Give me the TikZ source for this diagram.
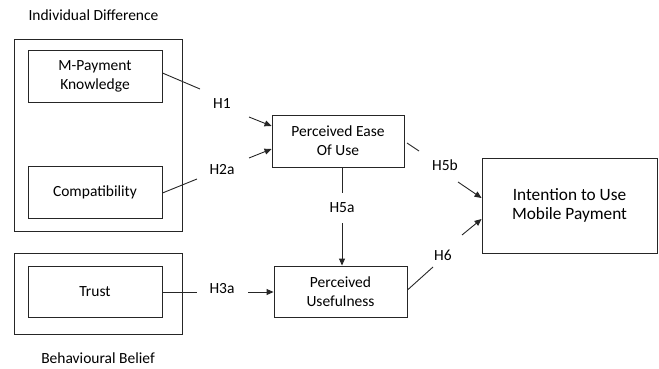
\documentclass[tikz,border=0pt]{standalone}
\usepackage{fontspec}
\setmainfont{Carlito}
\usetikzlibrary{arrows.meta}
\begin{document}
\begin{tikzpicture}[x=1pt,y=-1pt,
  box/.style={draw=black!85, line width=0.9pt, inner sep=0pt, align=center, font=\fontsize{15.5}{19}\selectfont},
  lab/.style={inner sep=0pt, font=\fontsize{15.5}{19}\selectfont},
  con/.style={draw=black!85, line width=0.9pt},
  arr/.style={con, -{Triangle[length=7pt,width=6pt]}}]
\useasboundingbox (0,0) rectangle (659,369);
% group boxes
\node[box, minimum width=168pt, minimum height=192pt] (outer1) at (98,135) {};
\node[box, minimum width=168pt, minimum height=81pt] (outer2) at (98,293.5) {};
\node[lab] (gid) at (93.5,15) {Individual Difference};
\node[lab] (gbb) at (98,358) {Behavioural Belief};
% construct boxes
\node[box, minimum width=134pt, minimum height=52pt] (mpk) at (95,76) {M-Payment\\Knowledge};
\node[box, minimum width=134pt, minimum height=52pt] (comp) at (95,192) {Compatibility};
\node[box, minimum width=134pt, minimum height=51pt] (trust) at (95,291.5) {Trust};
\node[box, minimum width=132pt, minimum height=52pt] (peou) at (338,141) {Perceived Ease\\Of Use};
\node[box, minimum width=133pt, minimum height=51pt] (pu) at (340.5,291.5) {Perceived\\Usefulness};
\node[box, minimum width=175pt, minimum height=95pt, font=\fontsize{17.3}{19.5}\selectfont] (int) at (569.5,205.5) {Intention to Use\\Mobile Payment};
% hypothesis labels
\node[lab] (h1) at (222,104) {H1};
\node[lab] (h2a) at (222,170) {H2a};
\node[lab] (h3a) at (222,289) {H3a};
\node[lab] (h5a) at (342,208) {H5a};
\node[lab] (h5b) at (445,165) {H5b};
\node[lab] (h6) at (443,255) {H6};
% connector free ends
\coordinate (h1a) at (200,89);
\coordinate (h1b) at (249,117);
\coordinate (h2aa) at (197,179);
\coordinate (h2ab) at (249,158);
\coordinate (h3aa) at (197,292);
\coordinate (h3ab) at (248,292);
\coordinate (h5aa) at (342,193);
\coordinate (h5ab) at (342,223);
\coordinate (h5bs) at (407,143);
\coordinate (h5ba) at (419,151);
\coordinate (h5bb) at (458,182);
\coordinate (h6a) at (433,267);
\coordinate (h6b) at (462,235);
% connectors
\draw[con] ([yshift=3pt]mpk.east) -- (h1a);
\draw[arr] (h1b) -- (peou.west |- 0,126);
\draw[con] ([yshift=-1pt]comp.east) -- (h2aa);
\draw[arr] (h2ab) -- (peou.west |- 0,149);
\draw[con] (trust.east |- h3aa) -- (h3aa);
\draw[arr] (h3ab) -- (pu.west |- h3ab);
\draw[con] (peou.south -| h5aa) -- (h5aa);
\draw[arr] (h5ab) -- (pu.north -| h5ab);
\draw[con] (h5bs) -- (h5ba);
\draw[arr] (h5bb) -- (int.west |- 0,198);
\draw[con] (pu.east |- 0,290) -- (h6a);
\draw[arr] (h6b) -- (int.west |- 0,219);
\end{tikzpicture}
\end{document}
